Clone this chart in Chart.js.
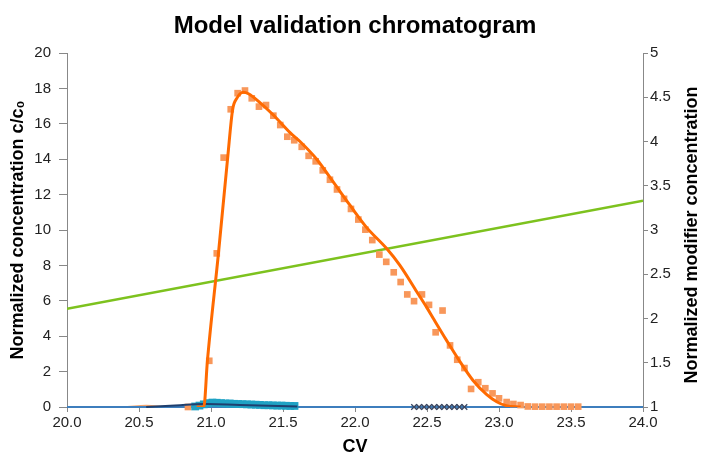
<!DOCTYPE html>
<html>
<head>
<meta charset="utf-8">
<script src="https://cdn.jsdelivr.net/npm/chart.js@4.4.1/dist/chart.umd.min.js"></script>
<style>
  body { margin: 0; background: #fff; }
  canvas { display: block; }
</style>
</head>
<body>
<canvas id="chart" width="702" height="458"></canvas>
<script>
const chartTitle = "Model validation chromatogram";
const xTitle = "CV";
const leftTitle = "Normalized concentration c/c\u2080";
const rightTitle = "Normalized modifier concentration";

// model curve (solid orange)
const modelX = [20.90, 20.95, 20.975, 21.052, 21.116, 21.15, 21.18, 21.224, 21.26, 21.34, 21.433, 21.549, 21.618, 21.734, 21.85, 21.965, 22.08, 22.22, 22.312, 22.43, 22.5, 22.544, 22.637, 22.73, 22.82, 22.915, 22.984, 23.05, 23.15];
const modelY = [0, 0, 2.6, 8.7, 14.1, 16.8, 17.45, 17.78, 17.7, 17.2, 16.5, 15.5, 15.0, 14.0, 12.7, 11.4, 10.15, 8.95, 8.0, 6.5, 5.6, 5.0, 3.75, 2.55, 1.5, 0.7, 0.3, 0.08, 0];

// measured points (orange squares)
const measX = [20.84, 20.988, 21.04, 21.088, 21.137, 21.185, 21.236, 21.283, 21.333, 21.382, 21.433, 21.481, 21.53, 21.578, 21.63, 21.678, 21.727, 21.776, 21.826, 21.875, 21.924, 21.972, 22.023, 22.072, 22.12, 22.169, 22.217, 22.269, 22.317, 22.363, 22.41, 22.465, 22.514, 22.56, 22.608, 22.66, 22.71, 22.76, 22.806, 22.856, 22.905, 22.955, 23.0, 23.053, 23.1, 23.15, 23.2, 23.25, 23.3, 23.35, 23.4, 23.45, 23.5, 23.55];
const measY = [0, 2.61, 8.68, 14.09, 16.82, 17.73, 17.88, 17.44, 16.97, 17.06, 16.46, 15.93, 15.27, 15.07, 14.7, 14.19, 13.88, 13.37, 12.84, 12.29, 11.76, 11.19, 10.59, 10.02, 9.43, 8.61, 8.2, 7.61, 7.06, 6.36, 5.98, 6.36, 5.77, 4.22, 5.45, 3.48, 2.67, 2.2, 1.02, 1.4, 1.06, 0.77, 0.49, 0.28, 0.17, 0.11, 0.03, 0.02, 0.02, 0.02, 0.02, 0.02, 0.02, 0.02];

// teal squares near baseline
const tealX = [20.89, 20.92, 20.95, 20.98, 21.01, 21.04, 21.07, 21.10, 21.13, 21.16, 21.19, 21.22, 21.25, 21.28, 21.31, 21.34, 21.37, 21.40, 21.43, 21.46, 21.49, 21.52, 21.55, 21.58];
const tealY = [0.03, 0.08, 0.15, 0.22, 0.25, 0.24, 0.22, 0.2, 0.2, 0.18, 0.17, 0.16, 0.15, 0.14, 0.13, 0.12, 0.1, 0.1, 0.09, 0.08, 0.08, 0.07, 0.06, 0.06];

// dark x markers on baseline
const crossX = [22.41, 22.445, 22.48, 22.515, 22.55, 22.585, 22.62, 22.655, 22.69, 22.725, 22.76];
const crossY = [0, 0, 0, 0, 0, 0, 0, 0, 0, 0, 0];

// small navy hump
const navyX = [20.55, 20.75, 20.95, 21.2, 21.6];
const navyY = [0, 0.08, 0.17, 0.12, 0.03];

// faint orange bump
const bumpX = [20.42, 20.55, 20.68];
const bumpY = [0, 0.07, 0];

// blue baseline
const baseX = [20, 24];
const baseY = [0, 0];

// modifier gradient (right axis)
const modX = [20, 24];
const modY = [2.11, 3.33];

function pts(xs, ys) {
  return xs.map((x, i) => ({ x: x, y: ys[i] }));
}

const fontFamily = '"Liberation Sans", Arial, sans-serif';

const rightTitlePlugin = {
  id: "rightTitle",
  afterDraw(chart) {
    const c = chart.ctx;
    const a = chart.chartArea;
    c.save();
    c.translate(chart.width - 10, (a.top + a.bottom) / 2 + 5);
    c.rotate(-Math.PI / 2);
    c.font = "bold 18px " + fontFamily;
    c.fillStyle = "#000";
    c.textAlign = "center";
    c.textBaseline = "middle";
    c.fillText(rightTitle, 0, 0);
    c.restore();
  }
};

const ctx = document.getElementById("chart").getContext("2d");
new Chart(ctx, {
  type: "scatter",
  data: {
    datasets: [
      {
        data: pts(modelX, modelY),
        showLine: true,
        borderColor: "#ff6a00",
        borderWidth: 3,
        pointRadius: 0,
        cubicInterpolationMode: "monotone",
        yAxisID: "y",
      },
      {
        data: pts(navyX, navyY),
        showLine: true,
        borderColor: "#1f3f6e",
        borderWidth: 2,
        pointRadius: 0,
        tension: 0.4,
        clip: false,
        yAxisID: "y",
      },
      {
        data: pts(crossX, crossY),
        pointStyle: "crossRot",
        pointRadius: 4,
        borderColor: "#3a4660",
        borderWidth: 1.3,
        clip: false,
        yAxisID: "y",
      },
      {
        data: pts(tealX, tealY),
        pointStyle: "rect",
        pointRadius: 5.5,
        backgroundColor: "#1fa2c4",
        borderWidth: 0,
        clip: false,
        yAxisID: "y",
      },
      {
        data: pts(measX, measY),
        pointStyle: "rect",
        pointRadius: 4.7,
        backgroundColor: "#f8975a",
        borderWidth: 0,
        clip: false,
        yAxisID: "y",
      },
      {
        data: pts(baseX, baseY),
        showLine: true,
        borderColor: "#3d7ebd",
        borderWidth: 2,
        pointRadius: 0,
        clip: false,
        yAxisID: "y",
      },
      {
        data: pts(modX, modY),
        showLine: true,
        borderColor: "#7dc21e",
        borderWidth: 2.5,
        pointRadius: 0,
        yAxisID: "y2",
      },
      {
        data: pts(bumpX, bumpY),
        showLine: true,
        borderColor: "#f4a46c",
        borderWidth: 2,
        pointRadius: 0,
        tension: 0.4,
        clip: false,
        yAxisID: "y",
      },
    ],
  },
  options: {
    responsive: false,
    animation: false,
    devicePixelRatio: 1,
    layout: { padding: 0 },
    plugins: {
      legend: { display: false },
      tooltip: { enabled: false },
      title: {
        display: true,
        text: chartTitle,
        fullSize: false,
        color: "#000",
        font: { family: fontFamily, size: 24, weight: "bold" },
        padding: { top: 12, bottom: 12.2 },
      },
    },
    scales: {
      x: {
        type: "linear",
        position: "bottom",
        min: 20,
        max: 24,
        ticks: {
          stepSize: 0.5,
          autoSkip: false,
          maxRotation: 0,
          padding: 2,
          color: "#222",
          font: { family: fontFamily, size: 15 },
          callback: (v) => v.toFixed(1),
        },
        grid: { drawOnChartArea: false, drawTicks: true, tickLength: 5, color: "#888" },
        border: { color: "#888" },
        title: {
          display: true,
          text: xTitle,
          color: "#000",
          font: { family: fontFamily, size: 18, weight: "bold" },
          padding: 0,
        },
        afterFit: (s) => { s.height = 51; },
      },
      y: {
        position: "left",
        min: 0,
        max: 20,
        ticks: {
          stepSize: 2,
          padding: 8,
          color: "#222",
          font: { family: fontFamily, size: 15 },
        },
        grid: { drawOnChartArea: false, drawTicks: true, tickLength: 8, color: "#888" },
        border: { color: "#888" },
        title: {
          display: true,
          text: leftTitle,
          color: "#000",
          font: { family: fontFamily, size: 18, weight: "bold" },
          padding: { top: 7, bottom: 0 },
        },
        afterFit: (s) => { s.width = 67; },
      },
      y2: {
        position: "right",
        min: 1,
        max: 5,
        ticks: {
          stepSize: 0.5,
          padding: 2,
          color: "#222",
          font: { family: fontFamily, size: 15 },
          callback: (v) => String(v),
        },
        grid: { drawOnChartArea: false, drawTicks: true, tickLength: 5, color: "#888" },
        border: { color: "#888" },
        afterFit: (s) => { s.width = 59; },
      },
    },
  },
  plugins: [rightTitlePlugin],
});
</script>
</body>
</html>
